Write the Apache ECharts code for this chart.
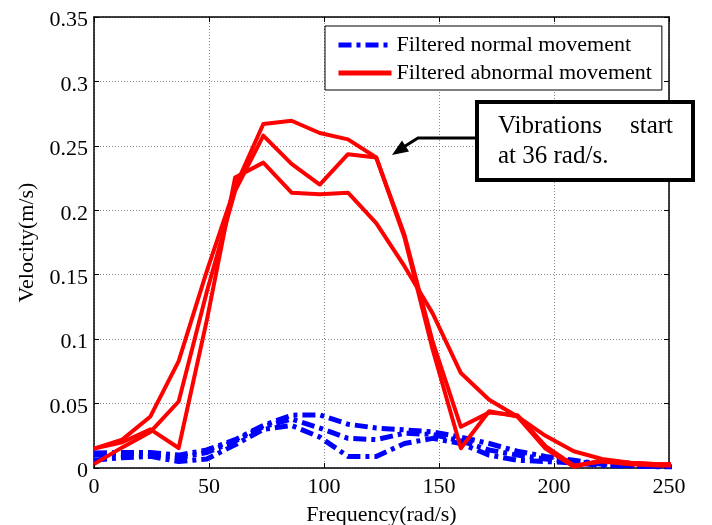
<!DOCTYPE html>
<html>
<head>
<meta charset="utf-8">
<script src="https://cdn.jsdelivr.net/npm/echarts@6/dist/echarts.min.js"></script>
<style>
html,body{margin:0;padding:0;background:#fff;}
#chart{width:712px;height:525px;}
</style>
</head>
<body>
<div id="chart"></div>
<script>
// Frequency samples (rad/s)
const freq = [0, 12.27, 24.54, 36.81, 49.08, 61.35, 73.62, 85.89, 98.16, 110.43, 122.7, 134.97, 147.24, 159.51, 171.78, 184.05, 196.32, 208.59, 220.86, 233.13, 245.4, 257.67];

// Filtered normal movement (three runs)
const normal1 = [0.0117, 0.012, 0.012, 0.010, 0.014, 0.022, 0.033, 0.041, 0.0412, 0.034, 0.031, 0.0296, 0.028, 0.024, 0.019, 0.013, 0.009, 0.006, 0.003, 0.002, 0.0015, 0.0015];
const normal2 = [0.010, 0.011, 0.011, 0.008, 0.012, 0.021, 0.032, 0.038, 0.031, 0.023, 0.022, 0.027, 0.026, 0.021, 0.014, 0.010, 0.007, 0.005, 0.003, 0.002, 0.0015, 0.0015];
const normal3 = [0.006, 0.008, 0.009, 0.005, 0.007, 0.018, 0.030, 0.033, 0.024, 0.009, 0.009, 0.019, 0.023, 0.019, 0.010, 0.006, 0.005, 0.004, 0.002, 0.0015, 0.001, 0.001];

// Filtered abnormal movement (three runs)
const abnormal1 = [0.015, 0.022, 0.040, 0.083, 0.153, 0.218, 0.267, 0.2695, 0.260, 0.255, 0.241, 0.181, 0.098, 0.032, 0.043, 0.041, 0.017, 0.002, 0.005, 0.003, 0.002, 0.002];
const abnormal2 = [0.003, 0.016, 0.028, 0.0516, 0.137, 0.215, 0.258, 0.236, 0.220, 0.2435, 0.241, 0.179, 0.092, 0.0153, 0.044, 0.040, 0.015, 0.001, 0.006, 0.004, 0.003, 0.003];
const abnormal3 = [0.015, 0.020, 0.030, 0.0155, 0.115, 0.2254, 0.237, 0.2137, 0.2124, 0.2137, 0.190, 0.1566, 0.120, 0.0737, 0.053, 0.040, 0.025, 0.013, 0.007, 0.004, 0.003, 0.003];

const legendNames = ['Filtered normal movement', 'Filtered abnormal movement'];
const xTicks = [0, 50, 100, 150, 200, 250];
const yTicks = [0, 0.05, 0.1, 0.15, 0.2, 0.25, 0.3, 0.35];
const annotationLines = ['Vibrations', 'start', 'at 36 rad/s.'];

const FONT = 'Liberation Serif, Times New Roman, serif';

function pairs(arr) { return freq.map((x, i) => [x, arr[i]]); }

const blueStyle = { color: '#0000ff', width: 5, type: [13, 5, 4, 5], cap: 'butt', join: 'round' };
const redStyle = { color: '#ff0000', width: 4, type: 'solid', join: 'round' };

function mk(name, arr, style) {
  return {
    name: name, type: 'line', data: pairs(arr), symbol: 'none', silent: true,
    lineStyle: style, itemStyle: { color: style.color }, animation: false, clip: true,
    xAxisIndex: 0, yAxisIndex: 0
  };
}

const chart = echarts.init(document.getElementById('chart'), null, { renderer: 'canvas' });

const axisCommon = {
  axisLine: { show: true, onZero: false, lineStyle: { color: '#000', width: 1.5 } },
  axisTick: { show: true, inside: true, length: 5, lineStyle: { color: '#000', width: 1 } }
};

chart.setOption({
  backgroundColor: '#fff',
  animation: false,
  grid: { left: 94, right: 43, top: 17, bottom: 57, containLabel: false, outerBoundsMode: 'none' },
  legend: {
    data: [
      { name: legendNames[0], itemStyle: { opacity: 0 }, lineStyle: { width: 5, type: [13, 5, 4, 5], color: '#0000ff', cap: 'butt' } },
      { name: legendNames[1], itemStyle: { opacity: 0 }, lineStyle: { width: 5, type: 'solid', color: '#ff0000' } }
    ],
    orient: 'vertical',
    left: 325, top: 26,
    itemWidth: 53, itemHeight: 14, itemGap: 6,
    padding: [8, 10, 6, 11],
    backgroundColor: '#fff',
    borderColor: '#000', borderWidth: 1,
    textStyle: { fontFamily: FONT, fontSize: 22, color: '#000' },
    selectedMode: false
  },
  xAxis: [{
    type: 'value', min: xTicks[0], max: xTicks[xTicks.length - 1], interval: 50,
    name: 'Frequency(rad/s)', nameLocation: 'middle', nameGap: 36,
    nameTextStyle: { fontFamily: FONT, fontSize: 22, color: '#000' },
    axisLabel: { fontFamily: FONT, fontSize: 22, color: '#000', margin: 8 },
    splitLine: { show: true, lineStyle: { color: '#888', type: [1, 2], width: 1 } },
    ...axisCommon
  }, {
    type: 'value', position: 'top', min: xTicks[0], max: xTicks[xTicks.length - 1], interval: 50,
    axisLabel: { show: false }, splitLine: { show: false },
    ...axisCommon
  }],
  yAxis: [{
    type: 'value', min: yTicks[0], max: yTicks[yTicks.length - 1], interval: 0.05,
    name: 'Velocity(m/s)', nameLocation: 'middle', nameGap: 49, nameRotate: 90,
    nameTextStyle: { fontFamily: FONT, fontSize: 22, color: '#000' },
    axisLabel: { fontFamily: FONT, fontSize: 22, color: '#000', margin: 6,
      verticalAlign: 'top', lineHeight: 7,
      formatter: v => String(parseFloat(v.toFixed(2))) },
    splitLine: { show: true, lineStyle: { color: '#888', type: [1, 2], width: 1 } },
    ...axisCommon
  }, {
    type: 'value', position: 'right', min: yTicks[0], max: yTicks[yTicks.length - 1], interval: 0.05,
    axisLabel: { show: false }, splitLine: { show: false },
    ...axisCommon
  }],
  series: [
    mk(legendNames[0], normal1, blueStyle),
    mk(legendNames[0], normal2, blueStyle),
    mk(legendNames[0], normal3, blueStyle),
    mk(legendNames[1], abnormal1, redStyle),
    mk(legendNames[1], abnormal2, redStyle),
    mk(legendNames[1], abnormal3, redStyle)
  ],
  graphic: [
    {
      type: 'polyline', z: 100,
      shape: { points: [[475, 138], [418, 138], [402, 148]] },
      style: { stroke: '#000', lineWidth: 3, fill: null }
    },
    {
      type: 'polygon', z: 100,
      shape: { points: [[392, 155], [402, 140.5], [409, 151.5]] },
      style: { fill: '#000' }
    },
    {
      type: 'rect', z: 100,
      shape: { x: 477, y: 102, width: 216, height: 78 },
      style: { fill: '#fff', stroke: '#000', lineWidth: 4 }
    },
    {
      type: 'text', z: 101, left: 498, top: 114,
      style: { text: annotationLines[0], font: '25px ' + FONT, fill: '#000' }
    },
    {
      type: 'text', z: 101, right: 712 - 673, top: 114,
      style: { text: annotationLines[1], font: '25px ' + FONT, fill: '#000' }
    },
    {
      type: 'text', z: 101, left: 498, top: 144,
      style: { text: annotationLines[2], font: '25px ' + FONT, fill: '#000' }
    }
  ]
});
</script>
</body>
</html>
